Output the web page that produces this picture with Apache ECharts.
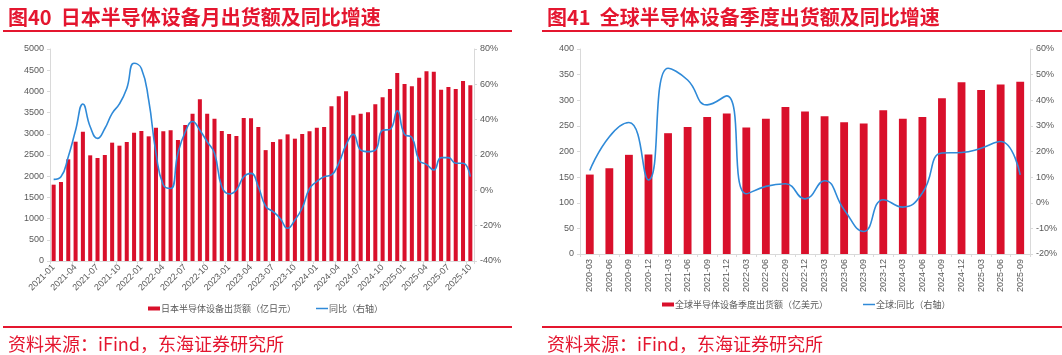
<!DOCTYPE html>
<html><head><meta charset="utf-8">
<script src="https://cdn.jsdelivr.net/npm/echarts@6/dist/echarts.min.js"></script>
<style>html,body{margin:0;padding:0;background:#fff}#c{width:1062px;height:355px}</style>
</head><body><div id="c"></div>
<script>
// Left panel: Japan monthly
const jpMonths = ['2021-01','2021-02','2021-03','2021-04','2021-05','2021-06','2021-07','2021-08','2021-09','2021-10','2021-11','2021-12',
'2022-01','2022-02','2022-03','2022-04','2022-05','2022-06','2022-07','2022-08','2022-09','2022-10','2022-11','2022-12',
'2023-01','2023-02','2023-03','2023-04','2023-05','2023-06','2023-07','2023-08','2023-09','2023-10','2023-11','2023-12',
'2024-01','2024-02','2024-03','2024-04','2024-05','2024-06','2024-07','2024-08','2024-09','2024-10','2024-11','2024-12',
'2025-01','2025-02','2025-03','2025-04','2025-05','2025-06','2025-07','2025-08','2025-09','2025-10'];
const jpShip = [1800,1863,2398,2814,3050,2492,2429,2500,2791,2720,2807,3027,
3066,2940,3145,3058,3082,2854,3208,3475,3813,3475,3357,3066,
2995,2948,3373,3365,3160,2615,2807,2870,2987,2885,2995,3058,
3145,3160,3648,3884,4002,3436,3475,3506,3695,3860,4057,4434,
4175,4120,4324,4473,4465,4041,4104,4057,4245,4143];
const jpYoY = [6.2,7.7,19,34,48.9,36,29.4,35,43.6,48.9,57.7,71.9,
69,51,21,3,1,21,33,39,34,27.5,21,2,
-2,0.2,7.7,9.6,2,-9,-12,-16,-21.5,-16.8,-10,1,
5,7.7,8.7,15.3,25.7,31.7,22.8,21.9,22.8,34,34.5,45,
31.7,30,17,14.7,11.5,18.5,18.5,15.3,15.3,7.7];
// Right panel: global quarterly
const glQuarters = ['2020-03','2020-06','2020-09','2020-12','2021-03','2021-06','2021-09','2021-12',
'2022-03','2022-06','2022-09','2022-12','2023-03','2023-06','2023-09','2023-12',
'2024-03','2024-06','2024-09','2024-12','2025-03','2025-06','2025-09'];
const glShip = [155,167.5,193.5,194,235.7,248,267.5,274,246.8,264,287,278,268.8,257,254.5,280.5,264,267.5,304,335,320,330.5,336];
const glYoY = [12.6,25.8,31.3,8.9,52.5,47.9,38.2,41.7,3.5,6.4,7.4,1.5,8.6,-2.7,-11.2,1.2,-1.7,3.8,19.4,19.6,21.3,23.9,10.9];

const RED = '#d9102b';
const TRED = '#e4162f';
const BLUE = '#2f8ad8';
const GRAY = '#595959';
const AXC = '#d9d9d9';
const NUMF = 'Liberation Sans, Arial, sans-serif';
const CJK = '"Noto Sans CJK SC", sans-serif';

function yAxisCfg(gi, min, max, interval, pct) {
  return {
    type: 'value', gridIndex: gi, min: min, max: max, interval: interval,
    splitLine: {show: false},
    axisLine: {show: true, lineStyle: {color: AXC}},
    axisTick: {show: true, length: 3, lineStyle: {color: AXC}},
    axisLabel: {color: GRAY, fontSize: 9, fontFamily: NUMF, margin: 6,
      formatter: function (v) { return pct ? v + '%' : String(v); }}
  };
}
function legendCfg(name, left, top, isLine) {
  return {
    data: [{name: name, icon: 'rect'}], left: left, top: top,
    itemWidth: 12, itemHeight: isLine ? 1.5 : 4, itemGap: 0,
    textStyle: {color: GRAY, fontSize: 9, fontFamily: CJK, padding: [0, 0, 0, -4]}
  };
}

const chart = echarts.init(document.getElementById('c'));
chart.setOption({
  animation: false,
  title: [
    {text: '图40  日本半导体设备月出货额及同比增速', left: 3, top: 2, textStyle: {color: TRED, fontSize: 20, fontWeight: 'bold', fontFamily: CJK}},
    {text: '图41  全球半导体设备季度出货额及同比增速', left: 542, top: 2, textStyle: {color: TRED, fontSize: 20, fontWeight: 'bold', fontFamily: CJK}},
    {text: '资料来源：iFind，东海证券研究所', left: 3, top: 330, textStyle: {color: TRED, fontSize: 18, fontWeight: 'normal', fontFamily: CJK}},
    {text: '资料来源：iFind，东海证券研究所', left: 542, top: 330, textStyle: {color: TRED, fontSize: 18, fontWeight: 'normal', fontFamily: CJK}}
  ],
  graphic: [
    {type: 'rect', shape: {x: 3, y: 30, width: 509, height: 2}, style: {fill: TRED}},
    {type: 'rect', shape: {x: 542, y: 30, width: 520, height: 2}, style: {fill: TRED}},
    {type: 'rect', shape: {x: 3, y: 326, width: 509, height: 2}, style: {fill: TRED}},
    {type: 'rect', shape: {x: 542, y: 326, width: 520, height: 2}, style: {fill: TRED}}
  ],
  legend: [
    legendCfg('日本半导体设备出货额（亿日元）', 143, 299, false),
    legendCfg('同比（右轴）', 311, 299, true),
    legendCfg('全球半导体设备季度出货额（亿美元）', 657, 295, false),
    legendCfg('全球:同比（右轴）', 858, 295, true)
  ],
  grid: [
    {left: 50, right: 588, top: 49, bottom: 94},
    {left: 580, right: 32, top: 49, bottom: 101}
  ],
  xAxis: [
    {type: 'category', gridIndex: 0, data: jpMonths,
     axisLine: {lineStyle: {color: AXC}}, axisTick: {show: true, interval: 2, length: 3, lineStyle: {color: AXC}},
     axisLabel: {interval: 2, rotate: 45, color: GRAY, fontSize: 9, fontFamily: NUMF, margin: 5}},
    {type: 'category', gridIndex: 1, data: glQuarters,
     axisLine: {lineStyle: {color: AXC}}, axisTick: {show: true, length: 3, lineStyle: {color: AXC}},
     axisLabel: {interval: 0, rotate: 90, color: GRAY, fontSize: 9, fontFamily: NUMF, margin: 5}}
  ],
  yAxis: [
    yAxisCfg(0, 0, 5000, 500, false),
    yAxisCfg(0, -40, 80, 20, true),
    yAxisCfg(1, 0, 400, 50, false),
    yAxisCfg(1, -20, 60, 10, true)
  ],
  series: [
    {name: '日本半导体设备出货额（亿日元）', type: 'bar', xAxisIndex: 0, yAxisIndex: 0, data: jpShip, barWidth: '55%', itemStyle: {color: RED}},
    {name: '同比（右轴）', type: 'line', xAxisIndex: 0, yAxisIndex: 1, data: jpYoY, smooth: 0.5, symbol: 'none', lineStyle: {color: BLUE, width: 1.6}, itemStyle: {color: BLUE}},
    {name: '全球半导体设备季度出货额（亿美元）', type: 'bar', xAxisIndex: 1, yAxisIndex: 2, data: glShip, barWidth: '40%', itemStyle: {color: RED}},
    {name: '全球:同比（右轴）', type: 'line', xAxisIndex: 1, yAxisIndex: 3, data: glYoY, smooth: 0.5, symbol: 'none', lineStyle: {color: BLUE, width: 1.6}, itemStyle: {color: BLUE}}
  ]
});
</script></body></html>
